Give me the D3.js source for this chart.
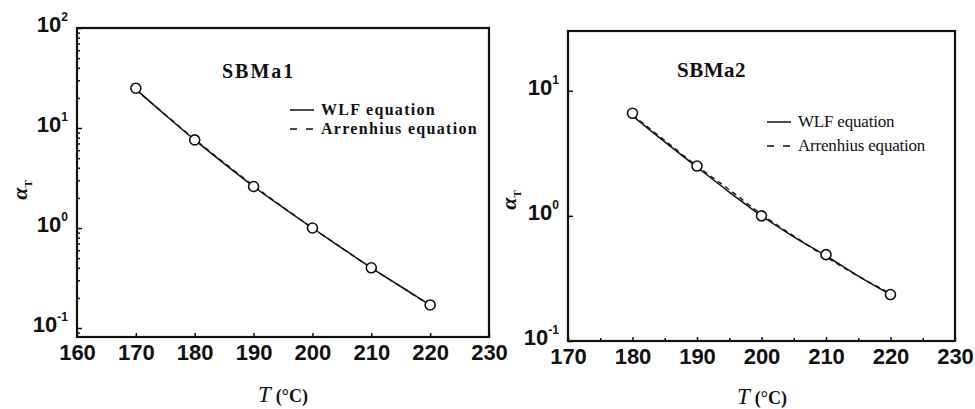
<!DOCTYPE html>
<html>
<head>
<meta charset="utf-8">
<script src="https://cdn.jsdelivr.net/npm/d3@7"></script>
<style>
  body { margin: 0; background: #fff; }
  svg { display: block; }
  .tick text { font-family: "Liberation Sans", Arial, sans-serif; font-weight: bold; fill: #111; }
</style>
</head>
<body>
<div id="graph"></div>
<script>
// panel 1 : SBMa1
let tempsA = [170, 180, 190, 200, 210, 220];
let aTA = [25, 7.6, 2.6, 1.0, 0.40, 0.17];
let curveTA = [170, 175, 180, 185, 190, 195, 200, 205, 210, 215, 220];
let wlfA = [24.5, 13.5, 7.6, 4.4, 2.6, 1.6, 1.0, 0.63, 0.40, 0.26, 0.17];
let arrA = [24, 13.6, 7.7, 4.5, 2.65, 1.62, 1.0, 0.63, 0.40, 0.26, 0.168];
let xTicksA = [160, 170, 180, 190, 200, 210, 220, 230];
let yDecadesA = [-1, 0, 1, 2];

// panel 2 : SBMa2
let tempsB = [180, 190, 200, 210, 220];
let aTB = [6.6, 2.5, 1.0, 0.49, 0.235];
let curveTB = [180, 185, 190, 195, 200, 205, 210, 215, 220];
let wlfB = [6.3, 3.9, 2.45, 1.55, 1.0, 0.68, 0.48, 0.33, 0.235];
let arrB = [6.4, 4.0, 2.5, 1.62, 1.03, 0.69, 0.47, 0.33, 0.24];
let xTicksB = [170, 180, 190, 200, 210, 220, 230];
let xMinorB = [175, 185, 195, 205, 215, 225];
let yDecadesB = [-1, 0, 1];

let legendLabels = ["WLF equation", "Arrenhius equation"];

let svg = d3.select("#graph").append("svg")
    .attr("width", 975).attr("height", 409);
svg.append("rect").attr("width", 975).attr("height", 409).attr("fill", "#fff");

let panels = [
    {
        name: "SBMa1", temps: tempsA, vals: aTA, ct: curveTA, wlf: wlfA, arr: arrA,
        xTicks: xTicksA, xMinor: [], decades: yDecadesA, yMinor: true,
        x: d3.scaleLinear().domain([160, 230]).range([77, 489]),
        y: d3.scaleLog().domain([Math.pow(10, -1.09), 100]).range([337, 28]),
        titleX: 222, titleY: 78, titleSize: 20, titleSpacing: 2,
        legX: 290, legY: 110, legGap: 19, legSize: 16, legBold: true, legSpacing: 1.3,
        ylabX: 27, ylabY: 190, xlabX: 283, xlabY: 402
    },
    {
        name: "SBMa2", temps: tempsB, vals: aTB, ct: curveTB, wlf: wlfB, arr: arrB,
        xTicks: xTicksB, xMinor: xMinorB, decades: yDecadesB, yMinor: false,
        x: d3.scaleLinear().domain([170, 230]).range([568, 955]),
        y: d3.scaleLog().domain([0.1, 30]).range([341, 31]),
        titleX: 677, titleY: 77, titleSize: 21, titleSpacing: 0.5,
        legX: 767, legY: 122, legGap: 24, legSize: 17, legBold: false, legSpacing: -0.2,
        ylabX: 516, ylabY: 200, xlabX: 762, xlabY: 404
    }
];

panels.forEach(function(p) {
    let g = svg.append("g");
    let x = p.x, y = p.y;
    let x0 = x.range()[0], x1 = x.range()[1];
    let y0 = y.range()[0], y1 = y.range()[1];

    // x axis ticks, inward
    let xAxis = g.append("g").attr("transform", "translate(0," + y0 + ")")
        .call(d3.axisBottom(x).tickValues(p.xTicks).tickSize(-4).tickPadding(10).tickFormat(d3.format("d")));
    xAxis.select(".domain").remove();
    xAxis.selectAll(".tick text").attr("font-size", 22).attr("dy", "0.6em");
    if (p.xMinor.length) {
        let xm = g.append("g").attr("transform", "translate(0," + y0 + ")")
            .call(d3.axisBottom(x).tickValues(p.xMinor).tickSize(-3).tickFormat(""));
        xm.select(".domain").remove();
    }

    // y axis minor ticks
    if (p.yMinor) {
        let minors = y.ticks().filter(function(v) {
            let l = Math.log10(v);
            return Math.abs(l - Math.round(l)) > 1e-6 && v >= y.domain()[0];
        });
        let ym = g.append("g").attr("transform", "translate(" + x0 + ",0)")
            .call(d3.axisLeft(y).tickValues(minors).tickSize(-3).tickFormat(""));
        ym.select(".domain").remove();
    }

    // y axis decades with superscript labels
    let yAxis = g.append("g").attr("transform", "translate(" + x0 + ",0)")
        .call(d3.axisLeft(y).tickValues(p.decades.map(function(e) { return Math.pow(10, e); }))
            .tickSize(-5).tickPadding(9).tickFormat(""));
    yAxis.select(".domain").remove();
    yAxis.selectAll(".tick text").each(function(v) {
        let t = d3.select(this).attr("dy", "0.35em");
        t.append("tspan").attr("font-size", 22).text("10");
        t.append("tspan").attr("font-size", 12).attr("dy", "-0.9em")
            .text(String(Math.round(Math.log10(v))));
    });
    g.selectAll(".tick line").attr("stroke", "#111").attr("stroke-width", 1.5);

    // frame
    g.append("rect").attr("x", x0).attr("y", y1)
        .attr("width", x1 - x0).attr("height", y0 - y1)
        .attr("fill", "none").attr("stroke", "#111").attr("stroke-width", 2.2);

    // curves
    let line = d3.line()
        .x(function(d) { return x(d[0]); })
        .y(function(d) { return y(d[1]); })
        .curve(d3.curveMonotoneX);
    g.append("path").datum(d3.zip(p.ct, p.arr)).attr("d", line)
        .attr("fill", "none").attr("stroke", "#222").attr("stroke-width", 1.5)
        .attr("stroke-dasharray", "5,4");
    g.append("path").datum(d3.zip(p.ct, p.wlf)).attr("d", line)
        .attr("fill", "none").attr("stroke", "#111").attr("stroke-width", 1.5);

    // data points
    g.selectAll(".pt").data(d3.zip(p.temps, p.vals)).enter().append("circle")
        .classed("pt", true)
        .attr("cx", function(d) { return x(d[0]); })
        .attr("cy", function(d) { return y(d[1]); })
        .attr("r", 5)
        .attr("fill", "#fff").attr("stroke", "#111").attr("stroke-width", 1.6);

    // title
    g.append("text").attr("x", p.titleX).attr("y", p.titleY)
        .attr("font-family", "'Liberation Serif', 'Times New Roman', serif")
        .attr("font-weight", "bold").attr("font-size", p.titleSize)
        .attr("letter-spacing", p.titleSpacing).attr("fill", "#111")
        .text(p.name);

    // legend
    legendLabels.forEach(function(lab, i) {
        let ly = p.legY + i * p.legGap;
        g.append("line").attr("x1", p.legX).attr("x2", p.legX + 24)
            .attr("y1", ly).attr("y2", ly)
            .attr("stroke", "#111").attr("stroke-width", 1.5)
            .attr("stroke-dasharray", i == 1 ? "7,9" : null);
        g.append("text").attr("x", p.legX + 31).attr("y", ly + 5)
            .attr("font-family", "'Liberation Serif', 'Times New Roman', serif")
            .attr("font-weight", p.legBold ? "bold" : "normal")
            .attr("font-size", p.legSize).attr("letter-spacing", p.legSpacing)
            .attr("fill", "#111").text(lab);
    });

    // axis titles
    let xl = g.append("text").attr("x", p.xlabX).attr("y", p.xlabY)
        .attr("text-anchor", "middle")
        .attr("font-family", "'Liberation Serif', 'Times New Roman', serif")
        .attr("fill", "#111");
    xl.append("tspan").attr("font-style", "italic").attr("font-size", 23).text("T");
    xl.append("tspan").attr("font-size", 18).attr("font-weight", "bold").attr("dx", 5).text("(°C)");

    let yl = g.append("text")
        .attr("transform", "translate(" + p.ylabX + "," + p.ylabY + ") rotate(-90)")
        .attr("text-anchor", "middle")
        .attr("font-family", "'Liberation Serif', 'Times New Roman', serif")
        .attr("font-weight", "bold").attr("fill", "#111");
    yl.append("tspan").attr("font-style", "italic").attr("font-size", 22).text("α");
    yl.append("tspan").attr("font-size", 11).attr("dy", 5).text("T");
});
</script>
</body>
</html>
